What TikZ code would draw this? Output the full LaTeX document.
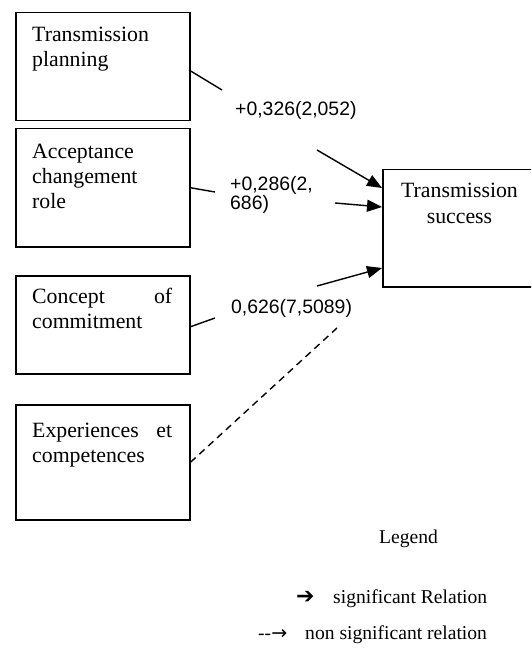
\documentclass[tikz,border=0pt]{standalone}
\usepackage{fontspec}
\setmainfont{Liberation Serif}
\newfontfamily\arialf{Liberation Sans}
\newfontfamily\dejavuf{DejaVu Sans}
\usetikzlibrary{arrows.meta}
\tikzset{
  boxst/.style={draw=black, line width=1.5pt, anchor=north west, inner sep=0pt},
  boxtext/.style={anchor=base west, inner sep=0pt, text width=140pt, align=left,
     font=\fontsize{21.8pt}{25pt}\selectfont},
  lbl/.style={anchor=base west, inner sep=0pt, font=\arialf\fontsize{19.4pt}{15pt}\selectfont, align=left},
  conn/.style={line width=1.4pt},
  arr/.style={line width=1.4pt, -{Triangle[length=15pt,width=12pt]}},
  dashline/.style={line width=1.4pt, dash pattern=on 7pt off 5pt},
  legtext/.style={anchor=base west, inner sep=0pt, font=\fontsize{19.6pt}{23pt}\selectfont}
}
\begin{document}
\begin{tikzpicture}[x=1pt,y=-1pt]
\useasboundingbox (0,0) rectangle (531,652);
\clip (0,0) rectangle (531,652);
% boxes
\node[boxst, minimum width=174pt, minimum height=108pt] (box1) at (15,12) {};
\node[boxst, minimum width=174pt, minimum height=118pt] (box2) at (15,128) {};
\node[boxst, minimum width=174pt, minimum height=98pt] (box3) at (15,275) {};
\node[boxst, minimum width=174pt, minimum height=115pt] (box4) at (15,404) {};
\node[boxst, minimum width=180pt, minimum height=117pt] (tgt) at (382,169) {};
% box texts
\node[boxtext] (t1) at (32,42) {Transmission\\planning};
\node[boxtext] (t2) at (32,159) {Acceptance\\changement\\role};
\node[boxtext] (t3) at (32,303) {Concept\hfill of\\commitment};
\node[boxtext] (t4) at (32,437) {Experiences\hfill et\\competences};
\node[anchor=base, inner sep=0pt, text width=155pt, align=center,
      font=\fontsize{21.8pt}{25pt}\selectfont] (tt) at (459.5,198) {Transmission\\success};
% labels
\node[lbl] (l1) at (235,116) {+0,326(2,052)};
\node[lbl] (l2) at (230,210) {+0,286(2,\\686)};
\node[lbl] (l3) at (231,313) {0,626(7,5089)};
% connector coordinates
\coordinate (s1) at (189,70);  \coordinate (m1) at (222,90);
\coordinate (n1) at (317,150); \coordinate (e1) at (382,188);
\coordinate (m2) at (215,192);
\coordinate (n2) at (335,203); \coordinate (e2) at (382,207);
\coordinate (m3) at (215,318);
\coordinate (n3) at (317,286); \coordinate (e3) at (382,268);
\coordinate (m4) at (337,328);
% connectors
\draw[conn] (s1) -- (m1);
\draw[arr] (n1) -- (e1);
\draw[conn] (box2.east) -- (m2);
\draw[arr] (n2) -- (e2);
\draw[conn] ([yshift=-2pt]box3.east) -- (m3);
\draw[arr] (n3) -- (e3);
\draw[dashline] (box4.east) -- (m4);
% legend
\node[anchor=base, inner sep=0pt, font=\fontsize{19.6pt}{23pt}\selectfont] (leg) at (408.5,543) {Legend};
\node[anchor=base west, inner sep=0pt, font=\dejavuf\bfseries\fontsize{22pt}{24pt}\selectfont] (sym1) at (296,603) {➔};
\node[legtext] (lt1) at (333,603) {significant Relation};
\node[anchor=base west, inner sep=0pt, font=\fontsize{19.6pt}{23pt}\selectfont] (sym2) at (258,639) {-{}-{\dejavuf\fontsize{19pt}{20pt}\selectfont →}};
\node[legtext] (lt2) at (305,639) {non significant relation};
\end{tikzpicture}
\end{document}
